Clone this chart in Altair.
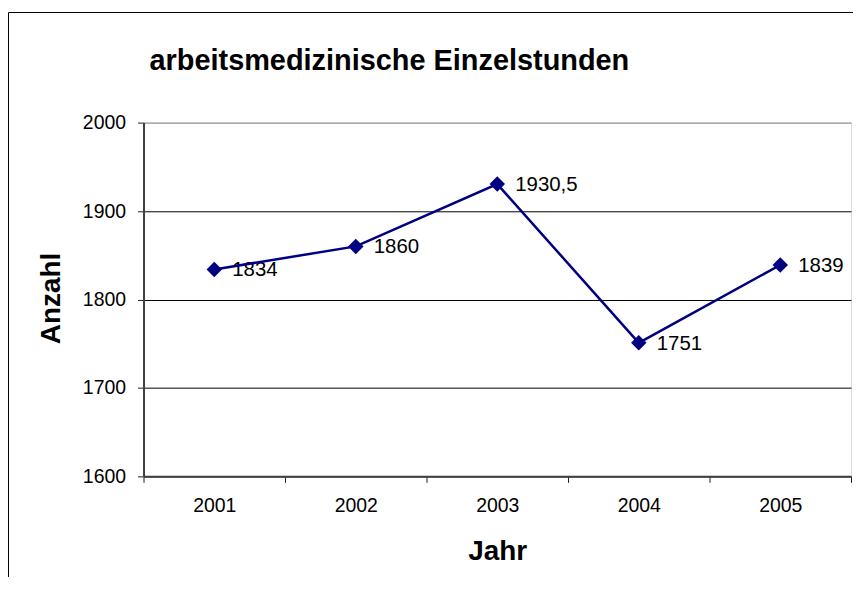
import altair as alt
import pandas as pd

years = ["2001", "2002", "2003", "2004", "2005"]
values = [1834, 1860, 1930.5, 1751, 1839]
labels = [f"{v:g}".replace(".", ",") for v in values]
y_ticks = [1600, 1700, 1800, 1900, 2000]
title_text = "arbeitsmedizinische Einzelstunden"

df = pd.DataFrame({"Jahr": years, "Anzahl": values, "label": labels})

FONT = "Liberation Sans"
NAVY = "#000080"

x = alt.X(
    "Jahr:N",
    sort=years,
    scale=alt.Scale(paddingInner=0, paddingOuter=0),
    axis=alt.Axis(
        title="Jahr",
        labelAngle=0,
        tickBand="extent",
        tickSize=6,
        tickColor="#202020",
        domainColor="#404040",
        domainWidth=2,
        labelFont=FONT,
        labelFontSize=19.5,
        labelColor="black",
        labelPadding=14,
        titleFont=FONT,
        titleFontSize=28,
        titleFontWeight="bold",
        titleColor="black",
        titleBaseline="alphabetic",
        titleY=83,
        grid=False,
    ),
)
y = alt.Y(
    "Anzahl:Q",
    scale=alt.Scale(domain=[1600, 2000], nice=False, zero=False),
    axis=alt.Axis(
        title="Anzahl",
        values=y_ticks,
        format="d",
        tickSize=6,
        tickColor="#202020",
        domainColor="#404040",
        domainWidth=2,
        labelFont=FONT,
        labelFontSize=19.5,
        labelColor="black",
        labelPadding=12,
        titleFont=FONT,
        titleFontSize=28,
        titleFontWeight="bold",
        titleColor="black",
        titleAngle=270,
        titleAlign="center",
        titleBaseline="alphabetic",
        titleX=-84,
        titleY=176,
        grid=True,
        gridColor={
            "condition": {"test": "datum.value === 2000", "value": "#808080"},
            "value": "black",
        },
        gridWidth=1,
    ),
)

base = alt.Chart(df).encode(x=x, y=y)

text = base.mark_text(align="left", baseline="middle", dx=18, dy=1, font=FONT, fontSize=20.5, color="black").encode(
    text="label:N"
)
line = base.mark_line(color=NAVY, strokeWidth=2.5)
points = base.mark_point(shape="diamond", filled=True, size=240, color=NAVY, opacity=1)

frame = alt.Chart(alt.Data(values=[{}])).mark_rect(
    fill=None, stroke="black", strokeWidth=1
).encode(
    x=alt.value(-135.5), x2=alt.value(2000), y=alt.value(-110.5), y2=alt.value(2000)
)

title = alt.Chart(alt.Data(values=[{"t": title_text}])).mark_text(
    align="left", baseline="alphabetic", font=FONT, fontSize=29, fontWeight="bold", color="black"
).encode(x=alt.value(6), y=alt.value(-53), text="t:N")

chart = (
    alt.layer(text, line, points, frame, title)
    .properties(
        width=710,
        height=355,
        padding={"left": 136, "top": 114, "right": 2, "bottom": 100},
        autosize=alt.AutoSizeParams(type="none"),
    )
    .configure_view(stroke="#808080", strokeWidth=2)
    .configure(background="white")
)

chart.save("out.html", embed_options={"renderer": "svg", "actions": False})
